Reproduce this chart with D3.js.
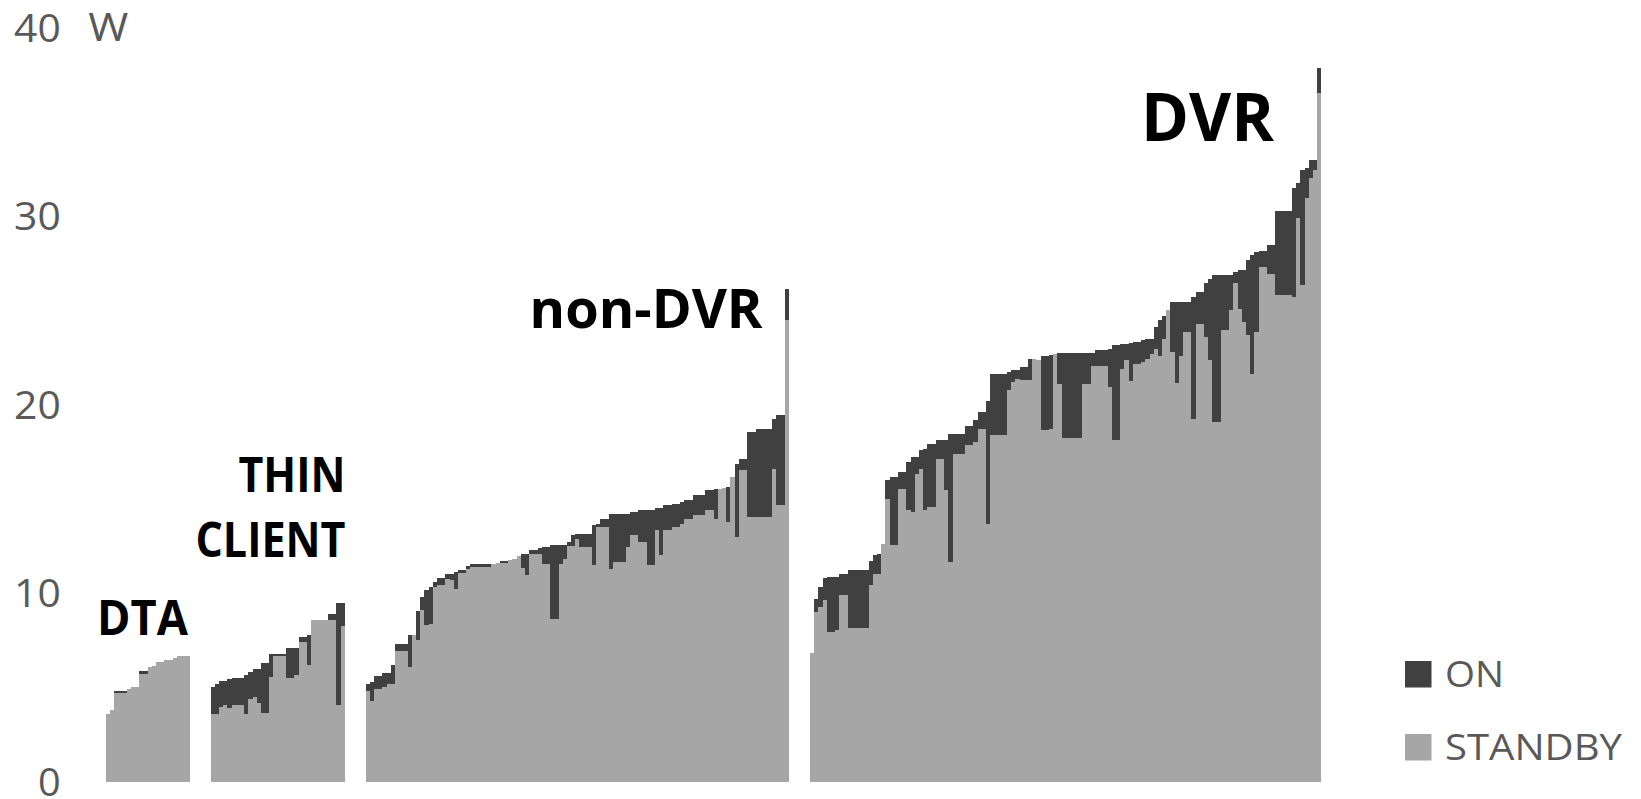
<!DOCTYPE html>
<html>
<head>
<meta charset="utf-8">
<script src="https://cdn.jsdelivr.net/npm/d3@7"></script>
<style>
  html, body { margin: 0; padding: 0; background: #ffffff; }
  svg { display: block; }
</style>
</head>
<body>
<svg id="chart" width="1641" height="799"></svg>
<script>
// Power draw (W) per set-top box, ON and STANDBY, grouped by box type.
const groupNames = ["DTA", "THIN CLIENT", "non-DVR", "DVR"];
const seriesNames = ["ON", "STANDBY"];
const yTicks = [0, 10, 20, 30, 40];
const unitLabel = "W";

const dtaOn = [3.64, 3.86, 4.84, 4.84, 4.84, 4.95, 5.08, 5.08, 5.9, 5.93,
  6.11, 6.15, 6.38, 6.38, 6.47, 6.47, 6.61, 6.73, 6.73, 6.73];
const dtaStandby = [3.64, 3.86, 4.75, 4.75, 4.75, 4.95, 5.08, 5.08, 5.76, 5.76,
  6.11, 6.15, 6.38, 6.38, 6.47, 6.47, 6.61, 6.73, 6.73, 6.73];

const thinOn = [5.08, 5.23, 5.37, 5.37, 5.5, 5.55, 5.55, 5.55, 5.67, 5.85,
  6.02, 6.02, 6.32, 6.32, 6.82, 6.82, 6.82, 6.82, 7.14, 7.14,
  7.14, 7.7, 7.7, 7.84, 8.62, 8.62, 8.62, 8.62, 8.94, 8.94,
  9.51, 9.51];
const thinStandby = [3.64, 3.64, 3.99, 4.08, 3.95, 4.13, 4.13, 4.13, 3.64, 4.43,
  4.52, 4.2, 3.67, 3.67, 5.58, 6.73, 6.73, 6.73, 5.55, 5.55,
  5.67, 7.44, 7.44, 6.25, 8.62, 8.62, 8.62, 8.62, 8.59, 8.59,
  4.08, 8.32];

const nonDvrOn = [5.23, 5.31, 5.62, 5.62, 5.79, 5.79, 6.2, 7.35, 7.35, 7.35,
  7.83, 7.83, 9.07, 9.83, 10.23, 10.36, 10.62, 10.83, 10.83, 11.07,
  11.07, 11.15, 11.24, 11.24, 11.47, 11.56, 11.56, 11.56, 11.56, 11.56,
  11.6, 11.63, 11.74, 11.74, 11.77, 11.85, 11.99, 12.09, 12.13, 12.34,
  12.34, 12.45, 12.48, 12.48, 12.57, 12.57, 12.57, 12.57, 12.74, 13.14,
  13.19, 13.19, 13.19, 13.19, 13.63, 13.72, 13.99, 13.99, 14.25, 14.25,
  14.25, 14.25, 14.25, 14.34, 14.34, 14.46, 14.46, 14.46, 14.46, 14.57,
  14.57, 14.69, 14.69, 14.78, 14.78, 14.87, 14.96, 14.96, 15.22, 15.22,
  15.22, 15.53, 15.53, 15.58, 15.58, 15.62, 15.66, 16.19, 16.9, 17.17,
  17.17, 18.58, 18.58, 18.76, 18.76, 18.76, 18.76, 19.29, 19.47, 19.47,
  26.19];
const nonDvrStandby = [4.87, 4.34, 4.96, 4.96, 5.05, 5.23, 5.23, 6.96, 6.96, 6.96,
  6.11, 7.83, 7.56, 9.16, 8.36, 8.4, 10.36, 10.45, 10.45, 10.8,
  10.76, 10.27, 11.12, 11.12, 11.33, 11.42, 11.42, 11.42, 11.42, 11.42,
  11.6, 11.63, 11.66, 11.66, 11.77, 11.85, 11.99, 11.37, 10.98, 12.09,
  12.09, 12.09, 11.56, 11.56, 8.64, 8.64, 11.56, 11.86, 12.53, 12.53,
  12.92, 12.48, 12.48, 12.48, 11.51, 13.54, 13.54, 13.54, 11.3, 11.68,
  11.68, 11.68, 12.48, 13.1, 13.1, 12.74, 12.74, 11.51, 11.51, 13.36,
  12.04, 13.36, 13.36, 13.54, 13.54, 13.72, 13.99, 13.99, 14.16, 14.16,
  14.16, 14.43, 14.43, 13.99, 15.58, 15.62, 13.81, 16.19, 13.01, 16.55,
  16.55, 14.07, 14.07, 14.07, 14.07, 14.07, 14.07, 16.6, 14.69, 14.69,
  24.51];

const dvrOn = [6.85, 9.74, 10.36, 10.85, 10.92, 10.92, 10.92, 11.03, 11.03, 11.28,
  11.28, 11.28, 11.28, 11.28, 11.74, 12.04, 12.13, 12.66, 16.06, 16.19,
  16.19, 16.46, 16.46, 16.99, 17.26, 17.26, 17.61, 17.7, 17.97, 17.97,
  18.18, 18.18, 18.18, 18.46, 18.46, 18.46, 18.46, 18.89, 18.89, 19.24,
  19.65, 19.65, 20.23, 21.68, 21.68, 21.68, 21.68, 21.77, 21.86, 21.86,
  22.03, 22.03, 22.48, 22.48, 22.42, 22.6, 22.6, 22.65, 22.74, 22.78,
  22.78, 22.78, 22.78, 22.78, 22.78, 22.78, 22.78, 22.78, 22.92, 22.92,
  22.92, 23.01, 23.18, 23.18, 23.27, 23.27, 23.31, 23.36, 23.36, 23.45,
  23.49, 23.54, 24.16, 24.51, 24.72, 25.04, 25.48, 25.48, 25.48, 25.48,
  25.48, 25.75, 26.01, 26.01, 26.46, 26.72, 26.9, 26.9, 26.9, 26.9,
  26.9, 27.08, 27.17, 27.17, 27.7, 27.96, 28.14, 28.17, 28.17, 28.49,
  28.49, 30.3, 30.3, 30.3, 30.3, 31.53, 31.77, 32.47, 32.56, 33.0,
  33.0, 37.87];
const dvrStandby = [6.85, 9.03, 9.29, 9.65, 7.97, 7.97, 8.06, 9.92, 9.92, 8.18,
  8.18, 8.18, 8.18, 8.18, 10.45, 11.07, 11.07, 12.66, 15.05, 12.57,
  12.57, 15.58, 15.58, 14.43, 14.34, 16.37, 16.64, 14.43, 14.6, 14.6,
  17.17, 17.17, 15.49, 11.68, 17.4, 17.4, 17.4, 17.88, 17.88, 18.05,
  18.76, 18.76, 13.72, 18.41, 18.41, 18.41, 18.41, 20.8, 21.24, 21.42,
  21.33, 21.33, 21.33, 22.48, 22.42, 18.71, 18.71, 18.76, 22.74, 21.15,
  18.28, 18.28, 18.28, 18.28, 18.28, 21.11, 21.11, 22.07, 22.07, 22.07,
  22.07, 20.97, 18.18, 18.18, 21.95, 22.39, 21.29, 22.21, 22.21, 22.3,
  22.48, 22.71, 23.0, 22.6, 23.54, 25.04, 22.83, 21.2, 22.6, 23.9,
  23.9, 19.29, 24.33, 24.33, 23.63, 22.42, 19.11, 19.11, 23.98, 23.98,
  25.04, 26.46, 25.13, 24.42, 23.72, 21.68, 23.9, 27.34, 27.34, 26.99,
  26.99, 25.84, 25.84, 25.84, 25.84, 25.72, 29.91, 26.37, 30.97, 32.03,
  32.47, 36.54];

// ---- layout & style ----
const colors = { ON: "#404040", STANDBY: "#a6a6a6" };
const textGrey = "#595959";
const fontFamily = "'Open Sans', 'DejaVu Sans', sans-serif";
const gapSlots = 5; // empty categories between box types

const groups = [
  { name: groupNames[0], on: dtaOn, standby: dtaStandby },
  { name: groupNames[1], on: thinOn, standby: thinStandby },
  { name: groupNames[2], on: nonDvrOn, standby: nonDvrStandby },
  { name: groupNames[3], on: dvrOn, standby: dvrStandby }
];

// One category slot per box, with blank slots separating the groups.
const slots = [];
groups.forEach((g, gi) => {
  if (gi > 0) for (let i = 0; i < gapSlots; i++) slots.push({ id: `gap-${gi}-${i}` });
  g.on.forEach((v, i) => slots.push({ id: `${g.name}-${i}`, group: g.name, on: v, standby: g.standby[i] }));
});
const boxes = slots.filter(s => s.on !== undefined);

const svg = d3.select("#chart");

const x = d3.scaleBand()
  .domain(slots.map(s => s.id))
  .range([105.8, 1321.4])
  .paddingInner(0)
  .paddingOuter(0);

const y = d3.scaleLinear().domain([0, 40]).range([782.4, 28.2]);

// ON bars behind, STANDBY bars in front
const plot = svg.append("g").attr("shape-rendering", "crispEdges");
plot.append("g").selectAll("rect")
  .data(boxes).join("rect")
  .attr("x", d => x(d.id))
  .attr("width", x.bandwidth())
  .attr("y", d => y(d.on))
  .attr("height", d => y(0) - y(d.on))
  .attr("fill", colors.ON);
plot.append("g").selectAll("rect")
  .data(boxes).join("rect")
  .attr("x", d => x(d.id))
  .attr("width", x.bandwidth())
  .attr("y", d => y(d.standby))
  .attr("height", d => y(0) - y(d.standby))
  .attr("fill", colors.STANDBY);

// Y axis: labels only
const yAxis = svg.append("g")
  .attr("transform", "translate(60.8,0)")
  .call(d3.axisLeft(y).tickValues(yTicks).tickSize(0).tickPadding(0).tickFormat(d3.format("d")));
yAxis.select(".domain").remove();
yAxis.selectAll("text")
  .attr("font-family", fontFamily)
  .attr("font-size", 38)
  .attr("fill", textGrey)
  .attr("dy", "0.34em")
  .attr("textLength", d => String(d).length > 1 ? 46.7 : 22.7)
  .attr("lengthAdjust", "spacingAndGlyphs");

svg.append("text")
  .attr("x", 88.3).attr("y", y(40)).attr("dy", "0.34em")
  .attr("font-family", fontFamily).attr("font-size", 38).attr("fill", textGrey)
  .attr("textLength", 40).attr("lengthAdjust", "spacingAndGlyphs")
  .text(unitLabel);

// Group labels
const labelSpecs = [
  { lines: [groupNames[0]], x: 97, y: [635], size: 49, anchor: "start", widths: [91] },
  { lines: ["THIN", "CLIENT"], x: 345.4, y: [491.9, 556.8], size: 48, anchor: "end", widths: [107, 150] },
  { lines: [groupNames[2]], x: 529.6, y: [327.6], size: 53, anchor: "start", widths: [233] },
  { lines: [groupNames[3]], x: 1141, y: [141.3], size: 66, anchor: "start", widths: [133] }
];
labelSpecs.forEach(s => {
  s.lines.forEach((line, i) => {
    svg.append("text")
      .attr("x", s.x).attr("y", s.y[i])
      .attr("text-anchor", s.anchor)
      .attr("font-family", fontFamily)
      .attr("font-weight", 700)
      .attr("font-size", s.size)
      .attr("fill", "#000000")
      .attr("textLength", s.widths[i])
      .attr("lengthAdjust", "spacingAndGlyphs")
      .text(line);
  });
});

// Legend
const legendTextWidths = { ON: 59, STANDBY: 177 };
const legend = svg.append("g");
seriesNames.forEach((name, i) => {
  const top = 661 + i * 73;
  legend.append("rect")
    .attr("x", 1405).attr("y", top)
    .attr("width", 26.5).attr("height", 26.5)
    .attr("fill", colors[name]);
  legend.append("text")
    .attr("x", 1445).attr("y", top + 26.3)
    .attr("font-family", fontFamily)
    .attr("font-size", 36)
    .attr("fill", textGrey)
    .attr("textLength", legendTextWidths[name])
    .attr("lengthAdjust", "spacingAndGlyphs")
    .text(name);
});
</script>
</body>
</html>
